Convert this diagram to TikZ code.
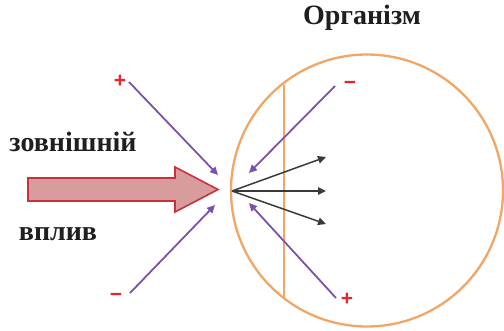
\documentclass[tikz,border=0pt]{standalone}
\usepackage{fontspec}
\setmainfont{Liberation Serif}
\newfontfamily\signfont{Liberation Sans}
\usetikzlibrary{arrows.meta}
\definecolor{vpurple}{HTML}{7B52AB}
\definecolor{vorange}{HTML}{F2A665}
\definecolor{vred}{HTML}{E8252D}
\definecolor{vdark}{HTML}{3A3A3A}
\definecolor{arrfill}{HTML}{D89C9E}
\definecolor{arrdraw}{HTML}{C8323A}
\tikzset{
  lbl/.style={font=\fontsize{28}{30}\selectfont\bfseries, text=black!88, inner sep=0pt},
  sign/.style={font=\signfont\fontsize{21}{21}\selectfont\bfseries, text=vred, inner sep=0pt},
  purplearr/.style={draw=vpurple, line width=1.8pt, -{Triangle[length=8pt,width=7.5pt]}},
  darkarr/.style={draw=vdark, line width=1.5pt, -{Triangle[length=8pt,width=7.5pt]}},
  orangeline/.style={draw=vorange, line width=2.3pt},
}
\begin{document}
\begin{tikzpicture}[x=1pt,y=-1pt]
\useasboundingbox (0,0) rectangle (504,330);
% organism circle and membrane line
\draw[orangeline] (367,190.5) circle (136);
\draw[orangeline] (284,85) -- (284,297);
% labels
\node[lbl] (org) at (362,18) {Організм};
\node[lbl] (zov) at (73,142) {зовнішній};
\node[lbl] (vpl) at (58,234) {вплив};
% big external arrow
\draw[draw=arrdraw, fill=arrfill, line width=1.6pt, line join=miter]
  (28,178) -- (175,178) -- (175,167) -- (218,189.5) -- (175,212) -- (175,201) -- (28,201) -- cycle;
% signs
\node[sign] (pA) at (120,81) {+};
\node[sign] (mA) at (116,297) {−};
\node[sign] (mB) at (350,85) {−};
\node[sign] (pB) at (347,299) {+};
% coordinates
\coordinate (a1) at (129,82);
\coordinate (a1t) at (218,175);
\coordinate (a2) at (130,293);
\coordinate (a2t) at (215,205);
\coordinate (b1) at (335,86);
\coordinate (b1t) at (249,173);
\coordinate (b2) at (336,298);
\coordinate (b2t) at (249,203);
\coordinate (o) at (232,191);
\coordinate (t1) at (326,157);
\coordinate (t2) at (326,191);
\coordinate (t3) at (326,224);
% arrows
\draw[purplearr] (a1) -- (a1t);
\draw[purplearr] (a2) -- (a2t);
\draw[purplearr] (b1) -- (b1t);
\draw[purplearr] (b2) -- (b2t);
\draw[darkarr] (o) -- (t1);
\draw[darkarr] (o) -- (t2);
\draw[darkarr] (o) -- (t3);
\end{tikzpicture}
\end{document}
